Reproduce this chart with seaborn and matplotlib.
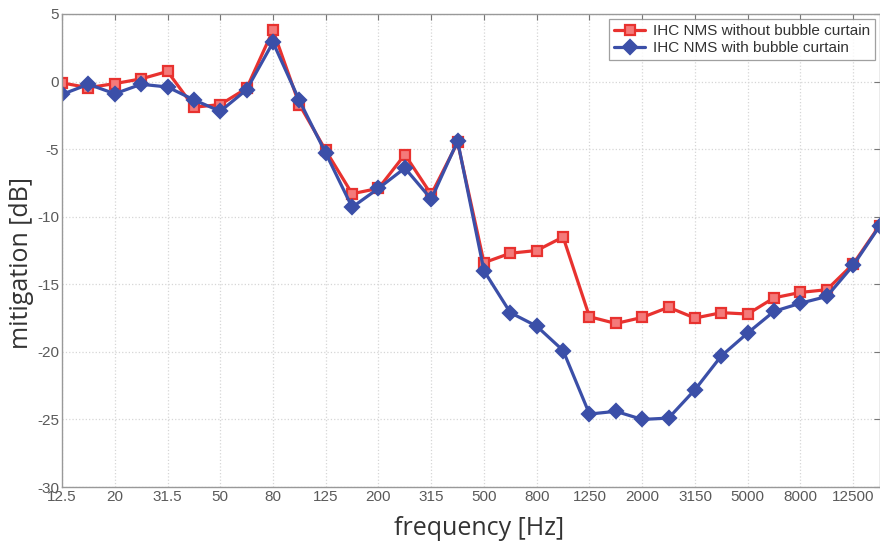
import numpy as np
import pandas as pd
import matplotlib
matplotlib.use("Agg")
import matplotlib.pyplot as plt
import seaborn as sns

# third-octave band centre frequencies [Hz]
freqs = ['12.5', '16', '20', '25', '31.5', '40', '50', '63', '80', '100',
         '125', '160', '200', '250', '315', '400', '500', '630', '800', '1000',
         '1250', '1600', '2000', '2500', '3150', '4000', '5000', '6300', '8000',
         '10000', '12500', '16000']

without_bc = [-0.1, -0.45, -0.15, 0.2, 0.75, -1.9, -1.7, -0.5, 3.8, -1.7,
              -5.1, -8.3, -7.9, -5.4, -8.35, -4.5, -13.4, -12.7, -12.5, -11.5,
              -17.4, -17.9, -17.45, -16.7, -17.5, -17.1, -17.2, -16.0, -15.6,
              -15.4, -13.5, -10.65]

with_bc = [-0.95, -0.2, -0.9, -0.2, -0.4, -1.35, -2.2, -0.6, 2.9, -1.4,
           -5.3, -9.3, -7.9, -6.4, -8.7, -4.4, -14.0, -17.1, -18.1, -19.9,
           -24.6, -24.4, -25.0, -24.9, -22.8, -20.3, -18.6, -17.0, -16.4,
           -15.9, -13.6, -10.7]

label_red = 'IHC NMS without bubble curtain'
label_blue = 'IHC NMS with bubble curtain'
red = '#e8322f'
blue = '#3b4fa8'

pos = np.arange(len(freqs))
df = pd.DataFrame({
    'pos': np.concatenate([pos, pos]),
    'mitigation': without_bc + with_bc,
    'series': [label_red] * len(freqs) + [label_blue] * len(freqs),
})

sns.set_style('white')
plt.rcParams['font.family'] = ['Liberation Sans', 'DejaVu Sans']
plt.rcParams['axes.unicode_minus'] = False

fig = plt.figure(figsize=(8.8, 5.49), dpi=100)
ax = fig.add_axes([0.0705, 0.1129, 0.929, 0.8616])

ax = sns.lineplot(data=df, x='pos', y='mitigation', hue='series', style='series',
                  palette={label_red: red, label_blue: blue},
                  markers={label_red: 's', label_blue: 'D'}, dashes=False,
                  linewidth=2.3, markersize=7, markeredgewidth=1.6, ax=ax)

ax.set_xlim(0, len(freqs) - 1)
ax.set_ylim(-30, 5)
ax.set_xticks(pos[::2])
ax.set_xticklabels(freqs[::2])
ax.set_yticks(np.arange(-30, 6, 5))

ax.grid(True, color='#d6d6d6', linestyle=':', linewidth=0.9)
ax.tick_params(axis='both', direction='in', length=4, width=0.8, color='#777777',
               labelsize=11, labelcolor='#5a5a5a', top=True, right=True, pad=2)
for sp in ax.spines.values():
    sp.set_color('#999999')
    sp.set_linewidth(1.0)

ax.set_xlabel('frequency [Hz]', fontsize=18, family=['Open Sans', 'DejaVu Sans'],
              color='#333333', va='center')
ax.set_ylabel('mitigation [dB]', fontsize=18, family=['Open Sans', 'DejaVu Sans'],
              color='#333333', va='center')
ax.xaxis.set_label_coords(0.51, -0.087)
ax.yaxis.set_label_coords(-0.049, 0.474)

leg = ax.legend(loc='upper right', fontsize=11, frameon=True, fancybox=False,
                borderpad=0.35, handlelength=2.0, handletextpad=0.5,
                labelspacing=0.2, borderaxespad=0.3)
leg.get_frame().set_edgecolor('#888888')
leg.get_frame().set_linewidth(0.9)
for t in leg.get_texts():
    t.set_color('#333333')

# red squares: solid red edge, lighter centre; blue diamonds solid
for line in [ax.lines[0], leg.legend_handles[0]]:
    line.set_markeredgecolor(red)
    line.set_markerfacecolor('#f47a7a')
for line in [ax.lines[1], leg.legend_handles[1]]:
    line.set_markeredgecolor(blue)
    line.set_markerfacecolor(blue)

fig.savefig('out.png', dpi=100)
